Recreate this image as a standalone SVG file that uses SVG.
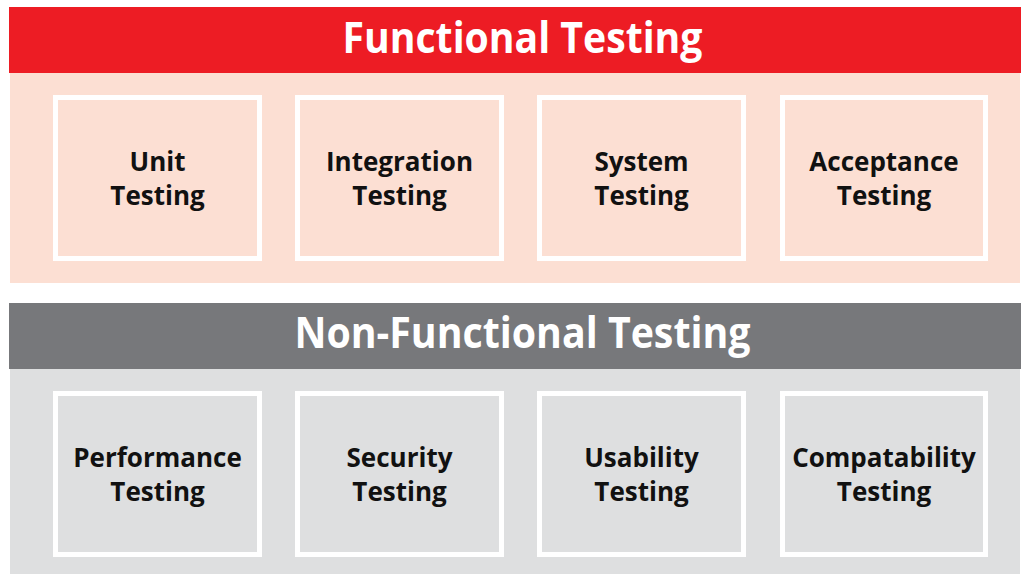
<svg xmlns="http://www.w3.org/2000/svg" width="1021" height="574" viewBox="0 0 1021 574">
  <style>
    .band-title { font-family: "Open Sans", "Noto Sans", sans-serif; font-weight: 700; font-size: 43px; fill: #ffffff; text-anchor: middle; }
    .box { stroke: #ffffff; stroke-width: 5; }
    .func .box { fill: #fcdfd3; }
    .nonfunc .box { fill: #dedfe0; }
    .label { font-family: "Open Sans", "Noto Sans", sans-serif; font-weight: 700; font-size: 26px; fill: #111111; text-anchor: middle; }
  </style>
  <rect x="0" y="0" width="1021" height="574" fill="#ffffff"/>

  <!-- Functional testing section -->
  <g id="functional-section">
    <rect x="9" y="7" width="1012" height="66" fill="#ed1c24"/>
    <rect x="10" y="73" width="1010" height="210" fill="#fcdfd3"/>
    <text class="band-title" x="522.5" y="53" textLength="360" lengthAdjust="spacingAndGlyphs">Functional Testing</text>
  </g>

  <g class="func">
    <g id="unit-testing">
      <rect class="box" x="55.5" y="97.5" width="204" height="161"/>
      <text class="label" x="157.5" y="171">Unit</text>
      <text class="label" x="157.5" y="205">Testing</text>
    </g>
    <g id="integration-testing">
      <rect class="box" x="297.5" y="97.5" width="204" height="161"/>
      <text class="label" x="399.5" y="171">Integration</text>
      <text class="label" x="399.5" y="205">Testing</text>
    </g>
    <g id="system-testing">
      <rect class="box" x="539.5" y="97.5" width="204" height="161"/>
      <text class="label" x="641.5" y="171">System</text>
      <text class="label" x="641.5" y="205">Testing</text>
    </g>
    <g id="acceptance-testing">
      <rect class="box" x="782.5" y="97.5" width="203" height="161"/>
      <text class="label" x="884" y="171">Acceptance</text>
      <text class="label" x="884" y="205">Testing</text>
    </g>
  </g>

  <!-- Non-functional testing section -->
  <g id="nonfunctional-section">
    <rect x="9" y="303" width="1012" height="66" fill="#77787b"/>
    <rect x="10" y="369" width="1010" height="205" fill="#dedfe0"/>
    <text class="band-title" x="522.5" y="348" textLength="456" lengthAdjust="spacingAndGlyphs">Non-Functional Testing</text>
  </g>

  <g class="nonfunc">
    <g id="performance-testing">
      <rect class="box" x="55.5" y="393.5" width="204" height="161"/>
      <text class="label" x="157.5" y="467">Performance</text>
      <text class="label" x="157.5" y="501">Testing</text>
    </g>
    <g id="security-testing">
      <rect class="box" x="297.5" y="393.5" width="204" height="161"/>
      <text class="label" x="399.5" y="467">Security</text>
      <text class="label" x="399.5" y="501">Testing</text>
    </g>
    <g id="usability-testing">
      <rect class="box" x="539.5" y="393.5" width="204" height="161"/>
      <text class="label" x="641.5" y="467">Usability</text>
      <text class="label" x="641.5" y="501">Testing</text>
    </g>
    <g id="compatability-testing">
      <rect class="box" x="782.5" y="393.5" width="203" height="161"/>
      <text class="label" x="884" y="467">Compatability</text>
      <text class="label" x="884" y="501">Testing</text>
    </g>
  </g>

  <!-- no connectors in this chart -->
  <g id="connectors"/>
</svg>
